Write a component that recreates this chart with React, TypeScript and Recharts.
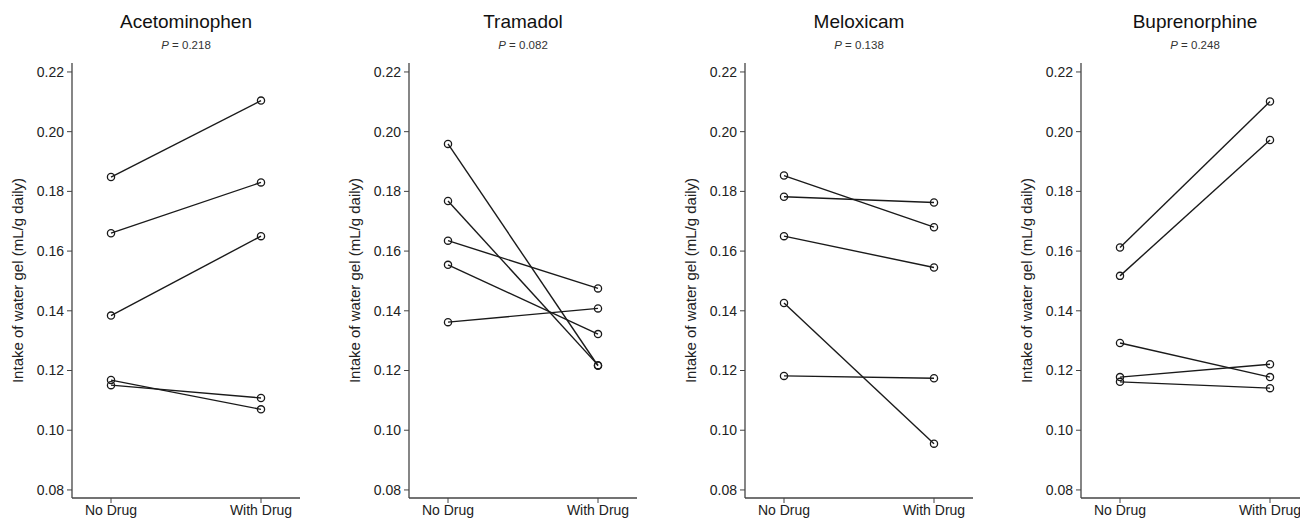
import React from "react";
import { LineChart, Line, XAxis, YAxis } from "recharts";

const groups = ["No Drug", "With Drug"];
const yTicks = [0.08, 0.1, 0.12, 0.14, 0.16, 0.18, 0.2, 0.22];

const drugNames = ["Acetominophen", "Tramadol", "Meloxicam", "Buprenorphine"];
const pValues = ["0.218", "0.082", "0.138", "0.248"];

// each pair = [No Drug, With Drug] for one animal
const acetominophenPairs = [
  [0.1848, 0.2104],
  [0.166, 0.183],
  [0.1384, 0.165],
  [0.1168, 0.107],
  [0.1151, 0.1108],
];
const tramadolPairs = [
  [0.1959, 0.1216],
  [0.1768, 0.1218],
  [0.1635, 0.1475],
  [0.1554, 0.1322],
  [0.1362, 0.1408],
];
const meloxicamPairs = [
  [0.1853, 0.168],
  [0.1782, 0.1763],
  [0.165, 0.1545],
  [0.1426, 0.0955],
  [0.1182, 0.1174],
];
const buprenorphinePairs = [
  [0.1612, 0.2101],
  [0.1517, 0.1972],
  [0.1292, 0.1178],
  [0.1178, 0.1221],
  [0.1162, 0.1141],
];

const allPairs = [acetominophenPairs, tramadolPairs, meloxicamPairs, buprenorphinePairs];
const panelLefts = [0, 337, 673, 1009];

const FONT = "'Liberation Sans', Arial, Helvetica, sans-serif";
const INK = "#222";

function buildRows(pairs: number[][]) {
  return groups.map((g, gi) => {
    const row: Record<string, any> = { group: g };
    pairs.forEach((p, i) => {
      row["s" + i] = p[gi];
    });
    return row;
  });
}

function Panel({ idx }: { idx: number }) {
  const pairs = allPairs[idx];
  const rows = buildRows(pairs);
  const left = panelLefts[idx];
  const plotCenter = left + 72 + 114;
  return (
    <>
      <div
        style={{
          position: "absolute",
          left: plotCenter - 100,
          width: 200,
          top: 11,
          textAlign: "center",
          fontFamily: FONT,
          fontSize: 19,
          lineHeight: "22px",
          color: "#111",
        }}
      >
        {drugNames[idx]}
      </div>
      <div
        style={{
          position: "absolute",
          left: plotCenter - 100,
          width: 200,
          top: 38,
          textAlign: "center",
          fontFamily: FONT,
          fontSize: 11.5,
          lineHeight: "14px",
          color: "#333",
        }}
      >
        <i>P</i> = {pValues[idx]}
      </div>
      <div style={{ position: "absolute", left, top: 0 }}>
        <LineChart
          width={337}
          height={524}
          data={rows}
          margin={{ top: 63, right: 37, bottom: 0, left: 10 }}
        >
          <XAxis
            dataKey="group"
            type="category"
            padding={{ left: 39, right: 39 }}
            tickSize={5}
            tickMargin={2}
            height={26}
            stroke="#444"
            tick={{ fill: INK, fontSize: 14, fontFamily: FONT }}
            tickLine={{ stroke: "#444" }}
            axisLine={{ stroke: "#444", strokeWidth: 1.3 }}
          />
          <YAxis
            type="number"
            domain={[0.0773, 0.223]}
            ticks={yTicks}
            allowDataOverflow
            width={62}
            tickSize={5}
            tickMargin={3}
            tickFormatter={(v: number) => v.toFixed(2)}
            tick={{ fill: INK, fontSize: 14, fontFamily: FONT }}
            tickLine={{ stroke: "#444" }}
            axisLine={{ stroke: "#444", strokeWidth: 1.3 }}
            label={{
              value: "Intake of water gel (mL/g daily)",
              angle: -90,
              position: "insideLeft",
              offset: 8,
              style: { textAnchor: "middle", fill: INK, fontSize: 15, fontFamily: FONT },
            }}
          />
          {pairs.map((_, i) => (
            <Line
              key={i}
              dataKey={"s" + i}
              type="linear"
              stroke="#1a1a1a"
              strokeWidth={1.4}
              isAnimationActive={false}
              dot={{ r: 3.6, stroke: "#1a1a1a", strokeWidth: 1.3, fill: "none" }}
              activeDot={false}
            />
          ))}
        </LineChart>
      </div>
    </>
  );
}

export default function App() {
  return (
    <div
      style={{
        position: "absolute",
        left: 0,
        top: 0,
        width: 1300,
        height: 524,
        overflow: "hidden",
        background: "#fff",
      }}
    >
      {drugNames.map((_, i) => (
        <Panel key={i} idx={i} />
      ))}
    </div>
  );
}
